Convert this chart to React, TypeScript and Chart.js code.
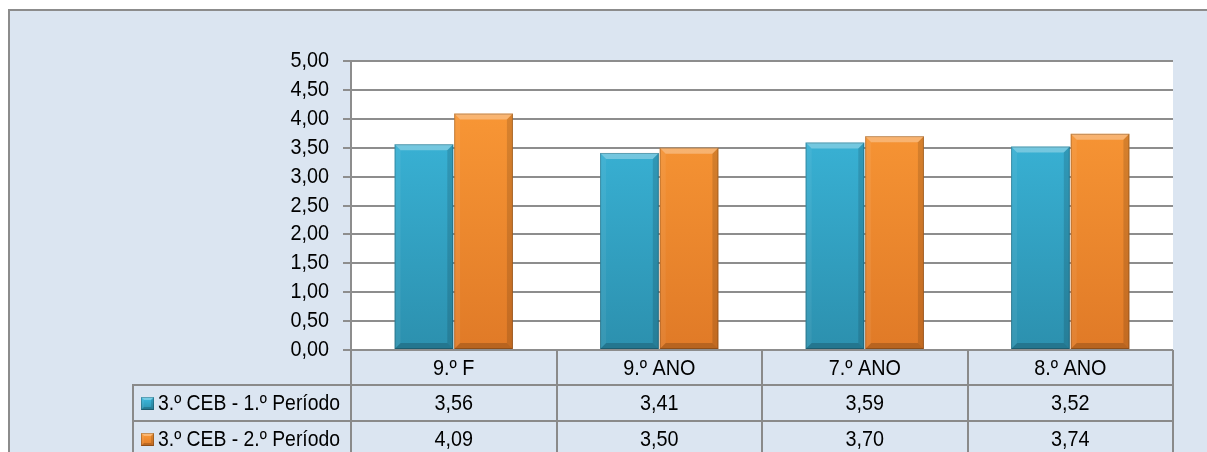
import React, { useEffect, useRef } from "react";
import { Chart, registerables } from "chart.js";

Chart.register(...registerables);

const categories = ["9.º F", "9.º ANO", "7.º ANO", "8.º ANO"];
const seriesLabels = ["3.º CEB - 1.º Período", "3.º CEB - 2.º Período"];
const series1 = [3.56, 3.41, 3.59, 3.52];
const series2 = [4.09, 3.5, 3.7, 3.74];
const yMin = 0;
const yMax = 5;
const yStep = 0.5;

const W = 1207;
const H = 452;
const FONT = '22px "Liberation Sans", Arial, sans-serif';
const SX = 0.9;
const SX_LABEL = 0.88;

const fmt = (v: number) => v.toFixed(2).replace(".", ",");

const palettes = [
  { top: "#3dbde2", bottom: "#2c90ae", flat: "#35a9cc" },
  { top: "#fd9c38", bottom: "#e07a27", flat: "#f28b31" },
];

function drawText(ctx: CanvasRenderingContext2D, text: string, x: number, y: number, align: CanvasTextAlign, sx = SX) {
  ctx.save();
  ctx.translate(x, y);
  ctx.scale(sx, 1);
  ctx.textAlign = align;
  ctx.textBaseline = "middle";
  ctx.fillText(text, 0, 0);
  ctx.restore();
}

function bevel(ctx: CanvasRenderingContext2D, l: number, t: number, r: number, b: number, s: number) {
  const poly = (pts: number[][], fill: string) => {
    ctx.beginPath();
    ctx.moveTo(pts[0][0], pts[0][1]);
    for (let i = 1; i < pts.length; i++) ctx.lineTo(pts[i][0], pts[i][1]);
    ctx.closePath();
    ctx.fillStyle = fill;
    ctx.fill();
  };
  poly([[l, t], [r, t], [r - s, t + s], [l + s, t + s]], "rgba(255,255,255,0.30)");
  poly([[l, t], [l + s, t + s], [l + s, b - s], [l, b]], "rgba(255,255,255,0.06)");
  poly([[r, t], [r - s, t + s], [r - s, b - s], [r, b]], "rgba(0,0,0,0.13)");
  poly([[l, b], [l + s, b - s], [r - s, b - s], [r, b]], "rgba(0,0,0,0.18)");
  ctx.strokeStyle = "rgba(0,0,0,0.22)";
  ctx.lineWidth = 1;
  ctx.strokeRect(l + 0.5, t + 0.5, r - l - 1, b - t - 1);
}

const decor = {
  id: "decor",
  beforeDraw(chart: any) {
    const ctx = chart.ctx as CanvasRenderingContext2D;
    const ca = chart.chartArea;
    ctx.save();
    ctx.fillStyle = "#ffffff";
    ctx.fillRect(0, 0, W, H);
    ctx.fillStyle = "#dbe5f1";
    ctx.fillRect(8, 9, W - 8, H - 9);
    ctx.strokeStyle = "#8c8c8c";
    ctx.lineWidth = 2;
    ctx.beginPath();
    ctx.moveTo(9, H);
    ctx.lineTo(9, 10);
    ctx.lineTo(W, 10);
    ctx.stroke();
    ctx.fillStyle = "#ffffff";
    ctx.fillRect(ca.left, ca.top, ca.right - ca.left, ca.bottom - ca.top);
    ctx.restore();
  },
  afterDraw(chart: any) {
    const ctx = chart.ctx as CanvasRenderingContext2D;
    const ca = chart.chartArea;
    const xs = chart.scales.x;
    const ys = chart.scales.y;
    ctx.save();

    chart.data.datasets.forEach((_: any, di: number) => {
      const meta = chart.getDatasetMeta(di);
      meta.data.forEach((bar: any) => {
        const p = bar.getProps(["x", "y", "base", "width"], true);
        bevel(ctx, p.x - p.width / 2, p.y, p.x + p.width / 2, p.base, 6);
      });
    });

    ctx.font = FONT;
    ctx.fillStyle = "#000";
    ys.ticks.forEach((t: any) => {
      const y = ys.getPixelForValue(t.value);
      drawText(ctx, fmt(t.value), ca.left - 22, y, "right");
    });

    const n = categories.length;
    const cw = (ca.right - ca.left) / n;
    const headTop = ca.bottom;
    const headBot = headTop + 35;
    const r1 = headBot + 36;
    const r2 = r1 + 36;
    const labelLeft = 133;

    ctx.strokeStyle = "#8a8a8a";
    ctx.lineWidth = 2;
    ctx.beginPath();
    for (let i = 0; i <= n; i++) {
      const x = Math.round(ca.left + i * cw);
      ctx.moveTo(x, headTop);
      ctx.lineTo(x, H + 10);
    }
    ctx.moveTo(labelLeft, headBot);
    ctx.lineTo(labelLeft, H + 10);
    [headBot, r1, r2].forEach((y) => {
      ctx.moveTo(labelLeft - 1, y);
      ctx.lineTo(ca.right + 1, y);
    });
    ctx.stroke();

    ctx.fillStyle = "#000";
    categories.forEach((c, i) => {
      const cx = xs.getPixelForValue(i);
      drawText(ctx, c, cx, (headTop + headBot) / 2 + 1, "center");
      drawText(ctx, fmt(series1[i]), cx, (headBot + r1) / 2 + 0.5, "center");
      drawText(ctx, fmt(series2[i]), cx, (r1 + r2) / 2 + 0.5, "center");
    });

    const rowMid = [(headBot + r1) / 2, (r1 + r2) / 2];
    seriesLabels.forEach((lab, si) => {
      const ym = rowMid[si];
      const pal = palettes[si];
      const top = Math.round(ym - 6.5);
      const g = ctx.createLinearGradient(0, top, 0, top + 13);
      g.addColorStop(0, pal.top);
      g.addColorStop(1, pal.bottom);
      ctx.fillStyle = g;
      ctx.fillRect(141, top, 13, 13);
      bevel(ctx, 141, top, 154, top + 13, 3);
      ctx.fillStyle = "#000";
      drawText(ctx, lab, 158, ym + 0.5, "left", SX_LABEL);
    });

    ctx.restore();
  },
};

function gradFor(si: number) {
  return (c: any) => {
    const chart = c.chart;
    const ca = chart.chartArea;
    const pal = palettes[si];
    if (!ca) return pal.flat;
    const g = chart.ctx.createLinearGradient(0, ca.top, 0, ca.bottom);
    g.addColorStop(0, pal.top);
    g.addColorStop(1, pal.bottom);
    return g;
  };
}

export default function App() {
  const ref = useRef<HTMLCanvasElement>(null);
  useEffect(() => {
    if (!ref.current) return;
    const chart = new Chart(ref.current, {
      type: "bar",
      data: {
        labels: categories,
        datasets: [
          { label: seriesLabels[0], data: series1, backgroundColor: gradFor(0) as any, borderWidth: 0 },
          { label: seriesLabels[1], data: series2, backgroundColor: gradFor(1) as any, borderWidth: 0 },
        ],
      },
      options: {
        responsive: false,
        animation: false,
        devicePixelRatio: 1,
        layout: { padding: { left: 0, top: 61, right: 34, bottom: 102 } },
        plugins: { legend: { display: false }, tooltip: { enabled: false }, title: { display: false } },
        datasets: { bar: { categoryPercentage: 0.58, barPercentage: 0.985 } },
        scales: {
          x: { display: false },
          y: {
            min: yMin,
            max: yMax,
            ticks: { stepSize: yStep, display: false },
            grid: { color: "#8d8d8d", lineWidth: 2, tickLength: 8, drawTicks: true, tickColor: "#8d8d8d" },
            border: { display: true, color: "#8d8d8d", width: 2 },
            afterFit: (s: any) => {
              s.width = 351;
            },
          },
        },
      },
      plugins: [decor],
    });
    return () => chart.destroy();
  }, []);
  return (
    <div style={{ position: "absolute", left: 0, top: 0, width: W, height: H, overflow: "hidden" }}>
      <canvas ref={ref} width={W} height={H} style={{ display: "block", width: W, height: H }} />
    </div>
  );
}
